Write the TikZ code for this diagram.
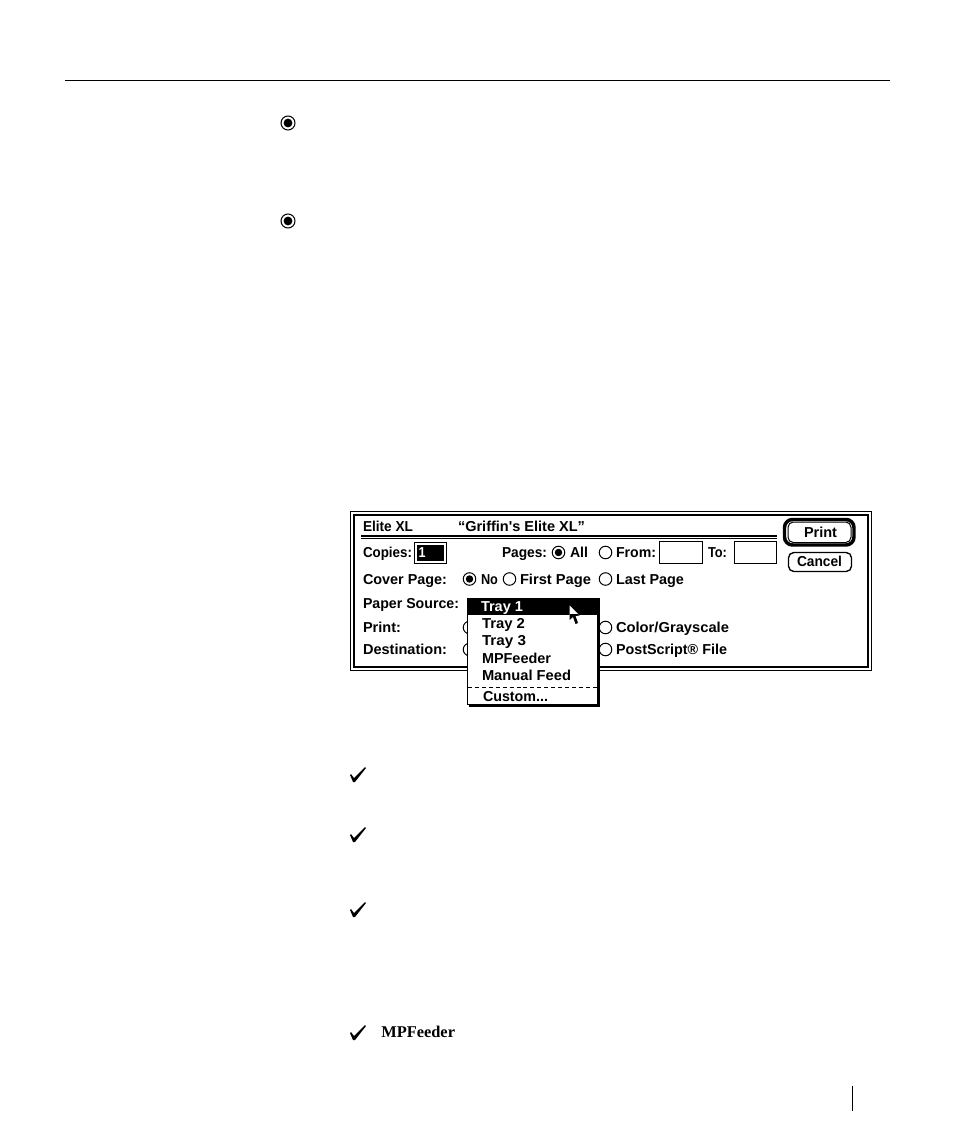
\documentclass[tikz,border=0pt]{standalone}
\usepackage{fontspec}
\newfontfamily\dlgfont{Liberation Sans}
\newfontfamily\bodyserif{Liberation Serif}
\newsavebox{\fitbox}
% fit text to a width given in reference pixels
\newcommand{\fitw}[2]{\sbox{\fitbox}{\dlgfont\fontsize{10.8pt}{12pt}\selectfont\bfseries #2}%
  \pgfmathsetmacro{\fitscale}{#1*0.75/\the\wd\fitbox}\scalebox{\fitscale}[1]{\usebox{\fitbox}}}
\newcommand{\dlgtext}[5][black]{\node[dlgtext,text=#1] (#2) at (#3) {\fitw{#4}{#5}};}
\tikzset{
  dlgtext/.style={anchor=base west,inner sep=0pt,outer sep=0pt},
  px/.style={line width=0.75pt},
  radiobtn/.style={circle,draw=black,fill=white,line width=0.75pt,minimum size=9.4pt,inner sep=0pt},
  radiodot/.style={circle,fill=black,minimum size=5.6pt,inner sep=0pt},
  fieldbox/.style={draw=black,fill=white,line width=0.75pt},
  tickmark/.style={fill=black,draw=none}
}
\newcommand{\tick}[3]{\coordinate (#1) at (#2,#3);
  \fill[tickmark,shift={(#1)}] (-8,0) -- (-7,-1) -- (-4,3) -- (7,-8) -- (8,-7) -- (-3,7) -- (-5,7) -- cycle;}
\begin{document}
\begin{tikzpicture}[x=0.75pt,y=-0.75pt]
\useasboundingbox (0,0) rectangle (954,1145);
\fill[white] (0,0) rectangle (954,1145);
% page furniture
\coordinate (ruleL) at (65,80.5); \coordinate (ruleR) at (890,80.5);
\draw[black,line width=0.7pt] (ruleL) -- (ruleR);
\coordinate (footT) at (852.5,1086); \coordinate (footB) at (852.5,1111);
\draw[black,line width=0.7pt] (footT) -- (footB);
% bullets
\node[radiobtn,minimum size=10.5pt,line width=0.8pt] (bulA) at (288,123) {};
\node[radiodot,minimum size=6.6pt] at (bulA) {};
\node[radiobtn,minimum size=10.5pt,line width=0.8pt] (bulB) at (288,221) {};
\node[radiodot,minimum size=6.6pt] at (bulB) {};
% dialog frame
\draw[black,px,fill=white] (350.5,511.5) rectangle (871.5,670.5);
\draw[black,line width=2.2pt] (354,515) rectangle (868,667);
% title
\dlgtext{tA}{363,531}{50}{Elite XL}
\dlgtext{tB}{458,531}{127}{“Griffin's Elite XL”}
\draw[black,line width=1.5pt] (361,535.6) -- (777,535.6);
\draw[black,px] (361,538.5) -- (777,538.5);
% copies
\dlgtext{cpL}{363,557}{49}{Copies:}
\draw[fieldbox] (414.5,542.5) rectangle (446.5,563.5);
\fill[black] (417,545) rectangle (444,561);
\dlgtext[white]{cpV}{418.5,557}{7}{1}
% pages
\dlgtext{pgL}{502,557}{45}{Pages:}
\node[radiobtn] (rAll) at (558.5,552.5) {}; \node[radiodot] at (rAll) {};
\dlgtext{pgA}{570,557}{18}{All}
\node[radiobtn] (rFrom) at (605.5,552.5) {};
\dlgtext{pgF}{616,557}{40}{From:}
\draw[fieldbox] (659.5,541.5) rectangle (702.5,563.5);
\dlgtext{pgT}{708,557}{19}{To:}
\draw[fieldbox] (734.5,541.5) rectangle (776.5,563.5);
% buttons
\draw[black,line width=2.6pt,rounded corners=6pt] (784.5,519.5) rectangle (854,545);
\draw[black,px,rounded corners=4pt] (788,522) rectangle (851,542.5);
\dlgtext{btP}{804,537}{33}{Print}
\draw[black,rounded corners=4pt,line width=1pt] (788.5,552.5) rectangle (851.5,571.5);
\dlgtext{btC}{797,566.5}{45}{Cancel}
% cover page
\dlgtext{cvL}{363,584}{84}{Cover Page:}
\node[radiobtn] (rNo) at (469.5,579) {}; \node[radiodot] at (rNo) {};
\dlgtext{cvN}{481,584}{17}{No}
\node[radiobtn] (rFirst) at (509.5,579) {};
\dlgtext{cvF}{520,584}{71}{First Page}
\node[radiobtn] (rLast) at (605.5,579) {};
\dlgtext{cvP}{616,584}{68}{Last Page}
% other rows
\dlgtext{psL}{363,608.5}{96}{Paper Source:}
\dlgtext{prL}{363,632}{38}{Print:}
\dlgtext{dsL}{363,654}{84}{Destination:}
\node[radiobtn] (rPr) at (469.5,627.5) {};
\node[radiobtn] (rDs) at (469.5,649.5) {};
\node[radiobtn] (rCol) at (605.5,627.5) {};
\dlgtext{cgL}{616,632}{113}{Color/Grayscale}
\node[radiobtn] (rPS) at (605.5,649.5) {};
\dlgtext{pfL}{616,654}{111}{PostScript® File}
% popup menu
\fill[black] (469,600) rectangle (599.5,706.5);
\draw[black,px,fill=white] (467.5,598.5) rectangle (597.5,704.5);
\fill[black] (467,597.5) rectangle (599.5,614.5);
\dlgtext[white]{mA}{481,611}{42}{Tray 1}
\dlgtext{mB}{482,628}{43}{Tray 2}
\dlgtext{mC}{482,645}{44}{Tray 3}
\dlgtext{mD}{482,663}{69}{MPFeeder}
\dlgtext{mE}{482,680}{89}{Manual Feed}
\draw[black,px,dash pattern=on 3pt off 2.2pt] (468,687.5) -- (597,687.5);
\dlgtext{mF}{483,701}{65}{Custom...}
% cursor: inverted over the highlight, black below it
\begin{scope}
\clip (560,600) rectangle (590,614.5);
\fill[white] (569.5,605.5) -- (569.5,620) -- (573,617) -- (575.5,624) -- (578,623) -- (575.5,616) -- (579.5,615.5) -- cycle;
\end{scope}
\begin{scope}
\clip (560,614.5) rectangle (590,630);
\fill[black] (569.5,605.5) -- (569.5,620) -- (573,617) -- (575.5,624) -- (578,623) -- (575.5,616) -- (579.5,615.5) -- cycle;
\end{scope}
% ticks
\tick{ckA}{358}{775}
\tick{ckB}{358}{835}
\tick{ckC}{358}{910}
\tick{ckD}{358}{1033}
\node[anchor=base west,inner sep=0pt,font=\bodyserif\bfseries\fontsize{12.3pt}{14pt}\selectfont] (mpf) at (381,1037) {MPFeeder};
\end{tikzpicture}
\end{document}
